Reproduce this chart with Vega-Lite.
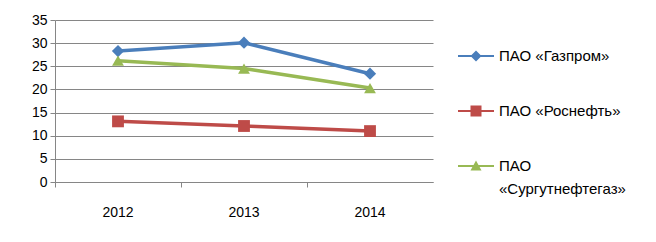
{
  "$schema": "https://vega.github.io/schema/vega-lite/v6.json",
  "width": 378,
  "height": 162,
  "autosize": {"type": "none"},
  "padding": {"left": 55, "top": 20, "right": 223, "bottom": 60},
  "background": "white",
  "config": {
    "font": "Liberation Sans",
    "view": {"stroke": null}
  },
  "data": {
    "values": [
      {"year": "2012", "company": "ПАО «Газпром»", "value": 28.3},
      {"year": "2013", "company": "ПАО «Газпром»", "value": 30.1},
      {"year": "2014", "company": "ПАО «Газпром»", "value": 23.4},
      {"year": "2012", "company": "ПАО «Роснефть»", "value": 13.1},
      {"year": "2013", "company": "ПАО «Роснефть»", "value": 12.1},
      {"year": "2014", "company": "ПАО «Роснефть»", "value": 11.0},
      {"year": "2012", "company": "ПАО «Сургутнефтегаз»", "value": 26.2},
      {"year": "2013", "company": "ПАО «Сургутнефтегаз»", "value": 24.5},
      {"year": "2014", "company": "ПАО «Сургутнефтегаз»", "value": 20.3}
    ]
  },
  "encoding": {
    "x": {
      "field": "year", "type": "ordinal",
      "scale": {"type": "band", "paddingInner": 0, "paddingOuter": 0},
      "axis": {
        "title": null, "labelAngle": 0, "labelFontSize": 14, "labelColor": "#000",
        "domainColor": "#868686", "tickColor": "#868686", "tickSize": 5,
        "bandPosition": 0, "labelBound": false, "labelPadding": 18, "grid": false
      }
    },
    "y": {
      "field": "value", "type": "quantitative",
      "scale": {"domain": [0, 35], "nice": false},
      "axis": {
        "title": null, "values": [0, 5, 10, 15, 20, 25, 30, 35],
        "labelFontSize": 14, "labelColor": "#000", "domain": true, "domainColor": "#868686",
        "gridColor": "#868686", "tickColor": "#868686", "tickSize": 5, "labelPadding": 3
      }
    },
    "color": {
      "field": "company", "type": "nominal",
      "scale": {
        "domain": ["ПАО «Газпром»", "ПАО «Роснефть»", "ПАО «Сургутнефтегаз»"],
        "range": ["#4A7EBB", "#BE4B48", "#98B954"]
      },
      "legend": {
        "title": null, "orient": "none", "legendX": 411, "legendY": 26,
        "labelFontSize": 15, "labelColor": "#000", "rowPadding": 37,
        "symbolSize": 400, "symbolOpacity": 1, "labelOffset": 13,
        "symbolStrokeWidth": 0,
        "labelExpr": "datum.label == 'ПАО «Сургутнефтегаз»' ? ['ПАО', '«Сургутнефтегаз»'] : datum.label",
        "encode": {
          "labels": {"update": {"lineHeight": {"value": 23}}}
        }
      }
    }
  },
  "layer": [
    {"mark": {"type": "line", "strokeWidth": 3.5}},
    {
      "transform": [{"filter": "datum.company == 'ПАО «Газпром»'"}],
      "mark": {"type": "point", "shape": "diamond", "filled": true, "size": 150, "opacity": 1}
    },
    {
      "transform": [{"filter": "datum.company == 'ПАО «Роснефть»'"}],
      "mark": {"type": "point", "shape": "square", "filled": true, "size": 140, "opacity": 1}
    },
    {
      "transform": [{"filter": "datum.company == 'ПАО «Сургутнефтегаз»'"}],
      "mark": {"type": "point", "shape": "triangle-up", "filled": true, "size": 140, "opacity": 1}
    },
    {
      "mark": {"type": "point", "filled": true, "size": 1, "opacity": 0},
      "encoding": {
        "shape": {
          "field": "company", "type": "nominal",
          "scale": {
            "domain": ["ПАО «Газпром»", "ПАО «Роснефть»", "ПАО «Сургутнефтегаз»"],
            "range": [
              "M-1.8,-0.1H1.8V0.1H-1.8Z M0,-0.55L0.55,0L0,0.55L-0.55,0Z",
              "M-1.8,-0.1H1.8V0.1H-1.8Z M-0.55,-0.55H0.55V0.55H-0.55Z",
              "M-1.8,-0.1H1.8V0.1H-1.8Z M0,-0.55L0.55,0.45L-0.55,0.45Z"
            ]
          },
          "legend": {
            "title": null, "orient": "none", "legendX": 411, "legendY": 26,
            "labelFontSize": 15, "labelColor": "#000", "rowPadding": 37,
            "symbolSize": 400, "symbolOpacity": 1, "labelOffset": 13,
            "symbolStrokeWidth": 0,
            "labelExpr": "datum.label == 'ПАО «Сургутнефтегаз»' ? ['ПАО', '«Сургутнефтегаз»'] : datum.label",
            "encode": {
              "labels": {"update": {"lineHeight": {"value": 23}}}
            }
          }
        }
      }
    }
  ]
}
